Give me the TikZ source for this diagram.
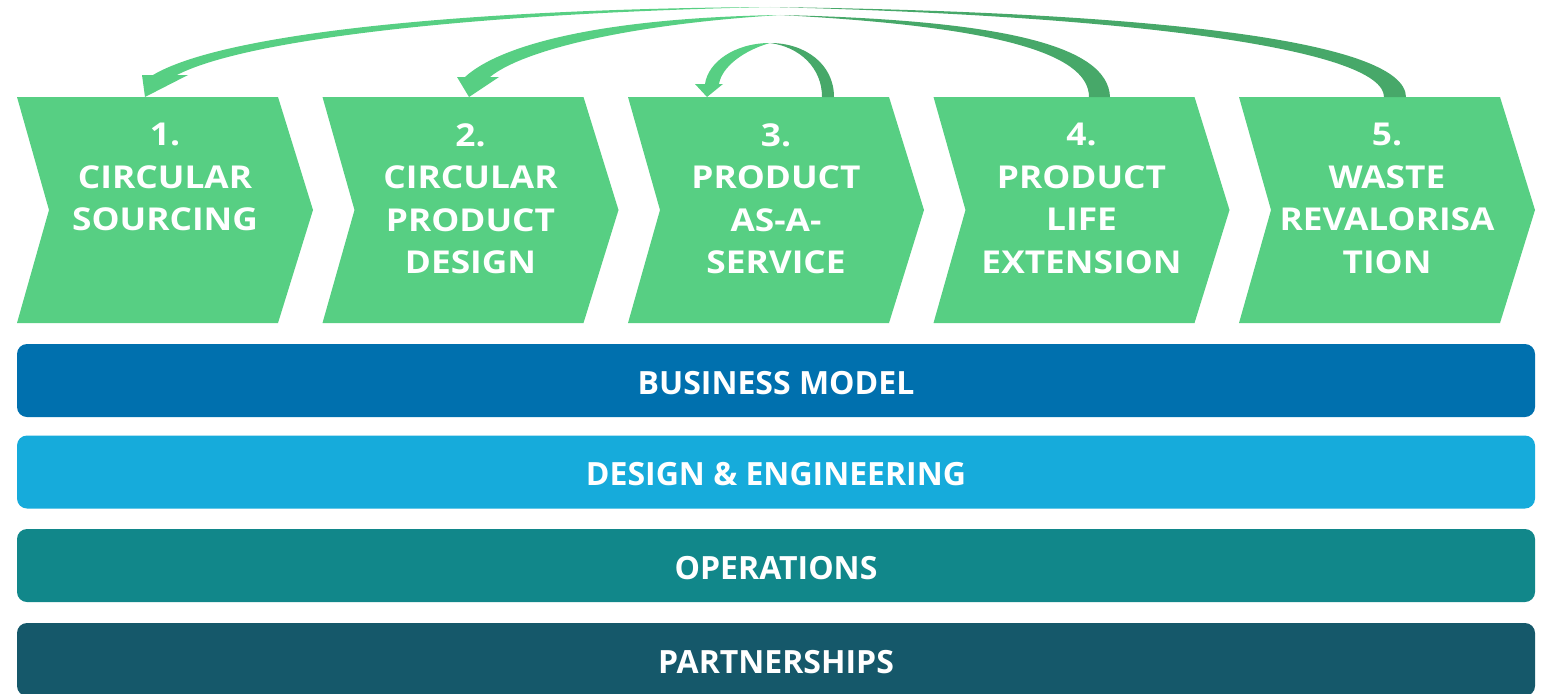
\documentclass[tikz,border=0pt]{standalone}
\usepackage{fontspec}
\setmainfont{Open Sans}
\newfontfamily\chevfont{Open Sans}[FakeStretch=1.12]
\definecolor{chevgreen}{HTML}{57CF83}
\definecolor{backgreen}{HTML}{47A869}
\definecolor{bizblue}{HTML}{0070AE}
\definecolor{engblue}{HTML}{16ABDB}
\definecolor{opsteal}{HTML}{11878A}
\definecolor{partteal}{HTML}{15586A}
\tikzset{
  chev/.style={fill=chevgreen},
  chevtext/.style={anchor=north, inner sep=0pt, align=center, text=white,
    font=\fontsize{31.5}{42.5}\chevfont\bfseries},
  bar/.style={rounded corners=10pt, minimum width=1518pt, minimum height=73pt,
    inner sep=0pt, text=white, text height=30pt, text depth=2.2pt,
    font=\fontsize{32}{36}\selectfont\bfseries},
  backarc/.style={fill=backgreen},
  frontarc/.style={fill=chevgreen}
}
\begin{document}
\begin{tikzpicture}[x=1pt,y=-1pt]
  \useasboundingbox (0,0) rectangle (1541,693);

  % the five steps
  \def\steps {1/17/{CIRCULAR\\SOURCING}, 2/322.5/{CIRCULAR\\PRODUCT\\DESIGN},
    3/628/{PRODUCT\\AS-A-\\SERVICE}, 4/933.5/{PRODUCT\\LIFE\\EXTENSION},
    5/1239/{WASTE\\REVALORISA\\TION}}
  \foreach \i/\lx/\txt in \steps
  { \fill[chev] (\lx,97) -- ++(261,0) -- ++(35,113) -- ++(-35,113) -- ++(-261,0)
      -- ++(32,-113) -- cycle;
    \node[chevtext] (c\i) at (\lx+148,123) {\i.\\\txt};
  }

  % the four layers
  \node[bar, fill=bizblue]  (biz)  at (776,380.5) {BUSINESS MODEL};
  \node[bar, fill=engblue]  (eng)  at (776,472)   {DESIGN \& ENGINEERING};
  \node[bar, fill=opsteal]  (ops)  at (776,565.5) {OPERATIONS};
  \node[bar, fill=partteal] (part) at (776,659.5) {PARTNERSHIPS};

  % ends of the return arrows
  \coordinate (tip1) at (145,97);
  \coordinate (tip2) at (469,97);
  \coordinate (tip3) at (707,97);

  % 5 -> 1
  \fill[backarc] (1406,97) .. controls (1405,40) and (1150,12) .. (770,7)
    .. controls (1140,16) and (1384,50) .. (1384,97) -- cycle;
  \fill[frontarc] (770,7) .. controls (450,9) and (220,35) .. (153,75)
    -- (177,75) .. controls (240,42) and (450,14) .. (770,7) -- cycle;
  \fill[frontarc] (tip1) -- ++(-3,-22) -- ++(46,0) -- cycle;

  % 4 -> 2
  \fill[backarc] (1110,97) .. controls (1108,45) and (1000,20) .. (780,15)
    .. controls (990,26) and (1089,52) .. (1089,97) -- cycle;
  \fill[frontarc] (780,15) .. controls (600,18) and (500,45) .. (465,77)
    -- (490,77) .. controls (520,52) and (620,25) .. (780,15) -- cycle;
  \fill[frontarc] (tip2) -- ++(-12,-20) -- ++(42,0) -- cycle;

  % 3 -> 3
  \fill[backarc] (834,97) .. controls (834,64) and (805,43) .. (770,43)
    .. controls (800,47) and (822,68) .. (822,97) -- cycle;
  \fill[frontarc] (770,43) .. controls (735,43) and (708,62) .. (705,84)
    -- (719,84) .. controls (722,66) and (745,50) .. (770,43) -- cycle;
  \fill[frontarc] (tip3) -- ++(-12,-13) -- ++(28,0) -- cycle;
\end{tikzpicture}
\end{document}
